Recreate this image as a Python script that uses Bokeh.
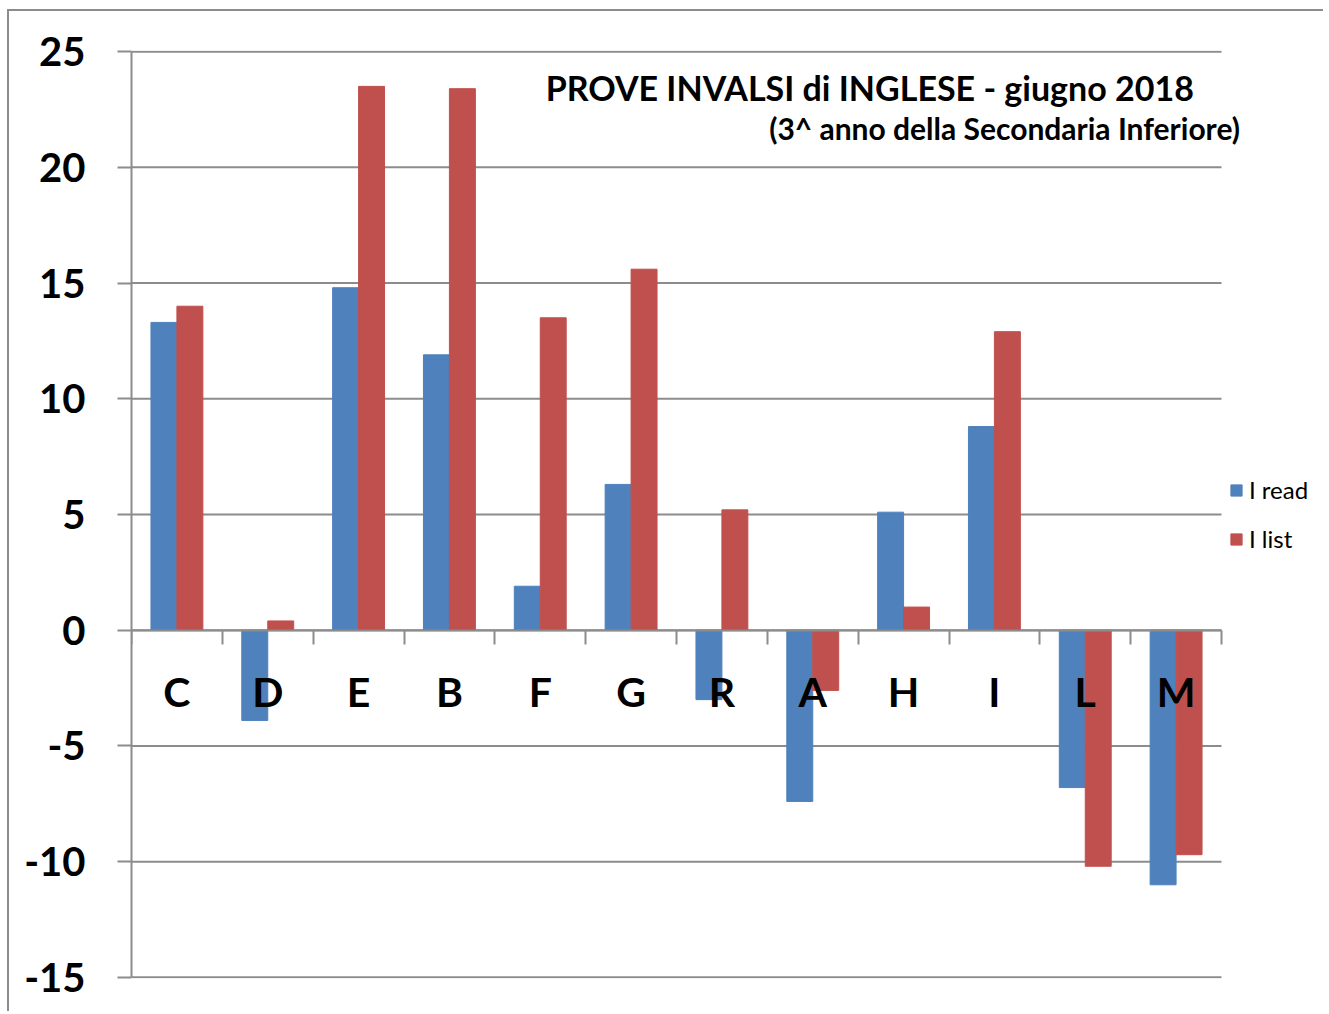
from bokeh.plotting import figure
from bokeh.models import (ColumnDataSource, Range1d, LinearAxis, FixedTicker,
                          Legend, LegendItem, Label)
from bokeh.transform import dodge
from bokeh.embed import file_html
from bokeh.resources import INLINE

categories = ["C", "D", "E", "B", "F", "G", "R", "A", "H", "I", "L", "M"]
i_read = [13.3, -3.9, 14.8, 11.9, 1.9, 6.3, -3.0, -7.4, 5.1, 8.8, -6.8, -11.0]
i_list = [14.0, 0.4, 23.5, 23.4, 13.5, 15.6, 5.2, -2.6, 1.0, 12.9, -10.2, -9.7]
y_ticks = [-15, -10, -5, 0, 5, 10, 15, 20, 25]
series_names = ["I read", "I list"]
title_line1 = "PROVE  INVALSI di  INGLESE - giugno 2018"
title_line2 = "(3^ anno della Secondaria Inferiore)"

BLUE = "#4F81BD"
RED = "#C0504D"
GRAY = "#8c8c8c"
FONT = "Lato"

n = len(categories)
pos = list(range(1, n + 1))
src = ColumnDataSource(dict(x=pos, cat=categories, read=i_read, lst=i_list))

# layout: category area 1090 px wide, extra 102 px on the right for legend/title
cat_px = 1090 / n
extra = 102 / cat_px
ymin, ymax = y_ticks[0], y_ticks[-1]
pad = 0.05

p = figure(width=1314, height=1000, output_backend="svg", toolbar_location=None,
           x_range=Range1d(0.5, n + 0.5 + extra),
           y_range=Range1d(ymin - pad, ymax + pad),
           x_axis_type=None, y_axis_type=None,
           frame_width=1192, frame_height=928,
           min_border_left=122, min_border_top=39, min_border_right=0,
           min_border_bottom=33)
p.outline_line_color = None
p.background_fill_color = "white"
p.border_fill_color = "white"
p.xgrid.visible = False if p.xgrid else None
p.styles = {"border-left": "2px solid #8c8c8c", "border-top": "2px solid #8c8c8c",
            "margin-left": "7px", "margin-top": "9px"}

# horizontal gridlines across the category area
p.segment(x0=[0.5] * len(y_ticks), x1=[n + 0.5] * len(y_ticks), y0=y_ticks, y1=y_ticks,
          line_color=GRAY, line_width=2)

bw = 1.0 / 3.5
r1 = p.vbar(x=dodge("x", -bw / 2, range=p.x_range), top="read", bottom=0, width=bw,
            source=src, fill_color=BLUE, line_color=BLUE)
r2 = p.vbar(x=dodge("x", bw / 2, range=p.x_range), top="lst", bottom=0, width=bw,
            source=src, fill_color=RED, line_color=RED)

# y axis
yax = LinearAxis(ticker=FixedTicker(ticks=y_ticks), bounds=(ymin, ymax),
                 major_label_overrides={t: str(t) for t in y_ticks})
yax.axis_line_color = GRAY
yax.axis_line_width = 2
yax.major_tick_line_color = GRAY
yax.major_tick_line_width = 2
yax.major_tick_out = 14
yax.major_tick_in = 0
yax.minor_tick_line_color = None
yax.major_label_standoff = 32
yax.major_label_text_font = FONT
yax.major_label_text_font_style = "bold"
yax.major_label_text_font_size = "40px"
yax.major_label_text_color = "black"
p.add_layout(yax, "left")

# x axis with ticks at category boundaries
xb = LinearAxis(ticker=FixedTicker(ticks=[k + 0.5 for k in range(n + 1)]),
                fixed_location=0, bounds=(0.5, n + 0.5))
xb.axis_line_color = GRAY
xb.axis_line_width = 2
xb.major_tick_line_color = GRAY
xb.major_tick_line_width = 2
xb.major_tick_out = 14
xb.major_tick_in = 0
xb.minor_tick_line_color = None
xb.major_label_text_font_size = "0px"
xb.major_label_text_color = None
p.add_layout(xb, "below")

# x axis carrying the category labels
xl = LinearAxis(ticker=FixedTicker(ticks=pos), fixed_location=0,
                major_label_overrides={k: c for k, c in zip(pos, categories)})
xl.axis_line_color = None
xl.major_tick_line_color = None
xl.minor_tick_line_color = None
xl.major_label_standoff = 31
xl.major_label_text_font = FONT
xl.major_label_text_font_style = "bold"
xl.major_label_text_font_size = "41px"
xl.major_label_text_color = "black"
p.add_layout(xl, "below")

# titles
p.add_layout(Label(x=5.06, y=23.46, text=title_line1, text_align="left",
                   text_baseline="alphabetic", text_font=FONT, text_font_style="bold",
                   text_font_size="34px", text_color="black"))
p.add_layout(Label(x=7.52, y=21.68, text=title_line2, text_align="left",
                   text_baseline="alphabetic", text_font=FONT, text_font_style="bold",
                   text_font_size="30px", text_color="black"))

legend = Legend(items=[LegendItem(label=series_names[0], renderers=[r1]),
                       LegendItem(label=series_names[1], renderers=[r2])],
                location=(1098, 425), orientation="vertical")
legend.label_text_font = FONT
legend.label_text_font_size = "24px"
legend.label_text_color = "black"
legend.glyph_width = 14
legend.glyph_height = 14
legend.label_standoff = 6
legend.spacing = 20
legend.padding = 0
legend.margin = 0
legend.border_line_color = None
legend.background_fill_color = None
p.add_layout(legend, "center")

open("out.html", "w").write(file_html(p, INLINE))
